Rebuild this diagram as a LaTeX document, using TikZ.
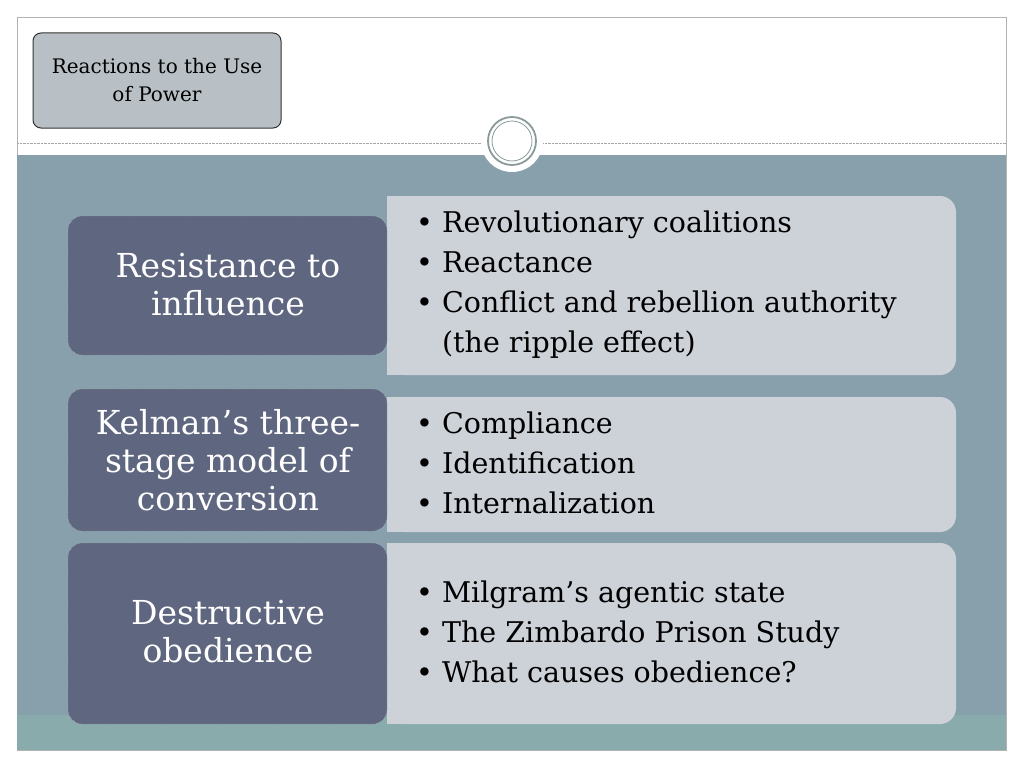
\documentclass[tikz,border=0pt]{standalone}
\usepackage{fontspec}
\setmainfont{DejaVu Serif}
\begin{document}
\begin{tikzpicture}[x=1pt,y=-1pt,
  leftbox/.style={fill=leftc,draw=white!70!leftc,densely dotted,rounded corners=14pt},
  lt/.style={text=white,font=\fontsize{33}{38}\selectfont,align=center},
  rt/.style={text=black,font=\fontsize{28.5}{40}\selectfont,align=left,anchor=west,inner sep=0}]
\definecolor{band}{HTML}{87A0AB}
\definecolor{leftc}{HTML}{5F6680}
\definecolor{rightc}{HTML}{CDD1D8}
\definecolor{strip}{HTML}{8AABAB}
\definecolor{titlec}{HTML}{B8C0C5}
\definecolor{ringc}{HTML}{8A9A9A}
\useasboundingbox (0,0) rectangle (1024,768);
\fill[white] (0,0) rectangle (1024,768);
\draw[gray!60] (17,17) rectangle (1006,750);
\fill[band] (17,155) rectangle (1006,750);
\fill[strip] (17,715) rectangle (1006,750);
\draw[gray!70,densely dotted] (17,143) -- (1006,143);
\node[circle,fill=white,minimum size=62pt,inner sep=0] (ring) at (512,141) {};
\draw[ringc,line width=1.8pt] (ring.center) circle (24);
\draw[ringc,line width=0.8pt] (ring.center) circle (20);
\node[draw=black!80,fill=titlec,rounded corners=8pt,minimum width=248pt,minimum height=95pt,font=\fontsize{20}{28}\selectfont,align=center,line width=1pt] (title) at (157,80.5) {Reactions to the Use\\of Power};
\foreach \a/\b in {196/375,397/532,543/724}{
  \fill[rightc,rounded corners=16pt] (387,\a) rectangle (956,\b);
  \fill[rightc] (387,\a) rectangle (420,\b);
}
\foreach \a/\b in {216/355,389/531,543/724}{
  \draw[leftbox] (68,\a) rectangle (387,\b);
}
\node[lt] (l1) at (228,285) {Resistance to\\influence};
\node[lt] (l2) at (228,460) {Kelman’s three-\\stage model of\\conversion};
\node[lt] (l3) at (228,632) {Destructive\\obedience};
\node[rt] (r1) at (416,285) {• Revolutionary coalitions\\• Reactance\\• Conflict and rebellion authority\\\phantom{• }(the ripple effect)};
\node[rt] (r2) at (416,463) {• Compliance\\• Identification\\• Internalization};
\node[rt] (r3) at (416,632) {• Milgram’s agentic state\\• The Zimbardo Prison Study\\• What causes obedience?};
\end{tikzpicture}
\end{document}
